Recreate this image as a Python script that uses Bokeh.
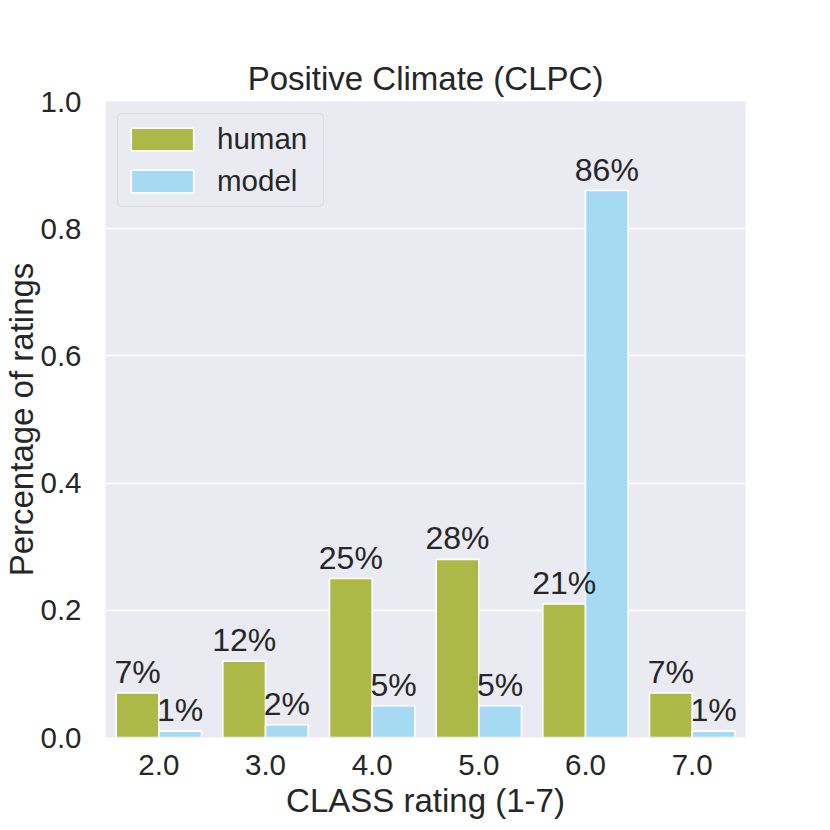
from bokeh.plotting import figure
from bokeh.models import (ColumnDataSource, FactorRange, Range1d, FixedTicker,
                          PrintfTickFormatter)
from bokeh.transform import dodge
from bokeh.core.properties import value
from bokeh.embed import file_html
from bokeh.resources import INLINE

# ---- data ----
categories = ["2.0", "3.0", "4.0", "5.0", "6.0", "7.0"]
human = [0.07, 0.12, 0.25, 0.28, 0.21, 0.07]
model = [0.01, 0.02, 0.05, 0.05, 0.86, 0.01]
y_ticks = [0.0, 0.2, 0.4, 0.6, 0.8, 1.0]
title_text = "Positive Climate (CLPC)"
x_label = "CLASS rating (1-7)"
y_label = "Percentage of ratings"

HUMAN_C = "#ADB947"
MODEL_C = "#A6D9F2"
TXT = "#262626"
FONT = "Liberation Sans"

src = ColumnDataSource(dict(
    cat=categories,
    human=human,
    model=model,
    human_lbl=[f"{round(v * 100)}%" for v in human],
    model_lbl=[f"{round(v * 100)}%" for v in model],
))

p = figure(x_range=FactorRange(factors=categories), y_range=Range1d(0, 1.0),
           frame_width=640, frame_height=636,
           min_border_left=105, min_border_right=77, min_border_top=101, min_border_bottom=91,
           output_backend="svg", toolbar_location=None)

p.background_fill_color = "#EAEAF2"
p.border_fill_color = "white"
p.outline_line_color = None

# title
p.title.text = title_text
p.title.align = "center"
p.title.text_font = FONT
p.title.text_font_size = "33px"
p.title.text_font_style = "normal"
p.title.text_color = TXT
p.title.standoff = 10

# bars
p.vbar(x=dodge("cat", -0.2, range=p.x_range), top="human", width=0.4, source=src,
       fill_color=HUMAN_C, line_color="white", line_width=1.6, legend_label="human")
p.vbar(x=dodge("cat", 0.2, range=p.x_range), top="model", width=0.4, source=src,
       fill_color=MODEL_C, line_color="white", line_width=1.6, legend_label="model")

# value labels
for col, off in (("human", -0.2), ("model", 0.2)):
    p.text(x=dodge("cat", off, range=p.x_range), y=col, text=col + "_lbl", source=src,
           text_align="center", text_baseline="alphabetic", y_offset=-21,
           text_font=value(FONT), text_font_size="32px", text_color=TXT)

# axes
for ax in (p.xaxis[0], p.yaxis[0]):
    ax.axis_line_color = None
    ax.major_tick_line_color = None
    ax.minor_tick_line_color = None
    ax.major_tick_out = 0
    ax.major_tick_in = 0
    ax.major_label_text_font = FONT
    ax.major_label_text_font_size = "29.5px"
    ax.major_label_text_color = TXT
    ax.axis_label_text_font = FONT
    ax.axis_label_text_font_size = "33px"
    ax.axis_label_text_font_style = "normal"
    ax.axis_label_text_color = TXT

p.xaxis.axis_label = x_label
p.yaxis.axis_label = y_label
p.xaxis.major_label_standoff = 17
p.xaxis.axis_label_standoff = 4
p.yaxis.major_label_standoff = 24
p.yaxis.axis_label_standoff = -3
p.yaxis.ticker = FixedTicker(ticks=y_ticks)
p.yaxis.formatter = PrintfTickFormatter(format="%.1f")

# grid
p.xgrid.grid_line_color = None
p.ygrid.grid_line_color = "white"
p.ygrid.grid_line_width = 1.6
p.ygrid.ticker = FixedTicker(ticks=y_ticks)

# legend
lg = p.legend[0]
lg.location = "top_left"
lg.margin = 12
lg.padding = 5
lg.spacing = 2
lg.glyph_width = 78
lg.glyph_height = 28
lg.label_standoff = 16
lg.label_height = 40
lg.label_width = 101
lg.label_text_font = FONT
lg.label_text_font_size = "29.5px"
lg.label_text_color = TXT
lg.border_line_color = "#CCCCCC"
lg.border_line_width = 1.5
lg.border_radius = 5
lg.background_fill_color = "#EAEAF2"
lg.background_fill_alpha = 0.8

open("out.html", "w").write(file_html(p, INLINE))
